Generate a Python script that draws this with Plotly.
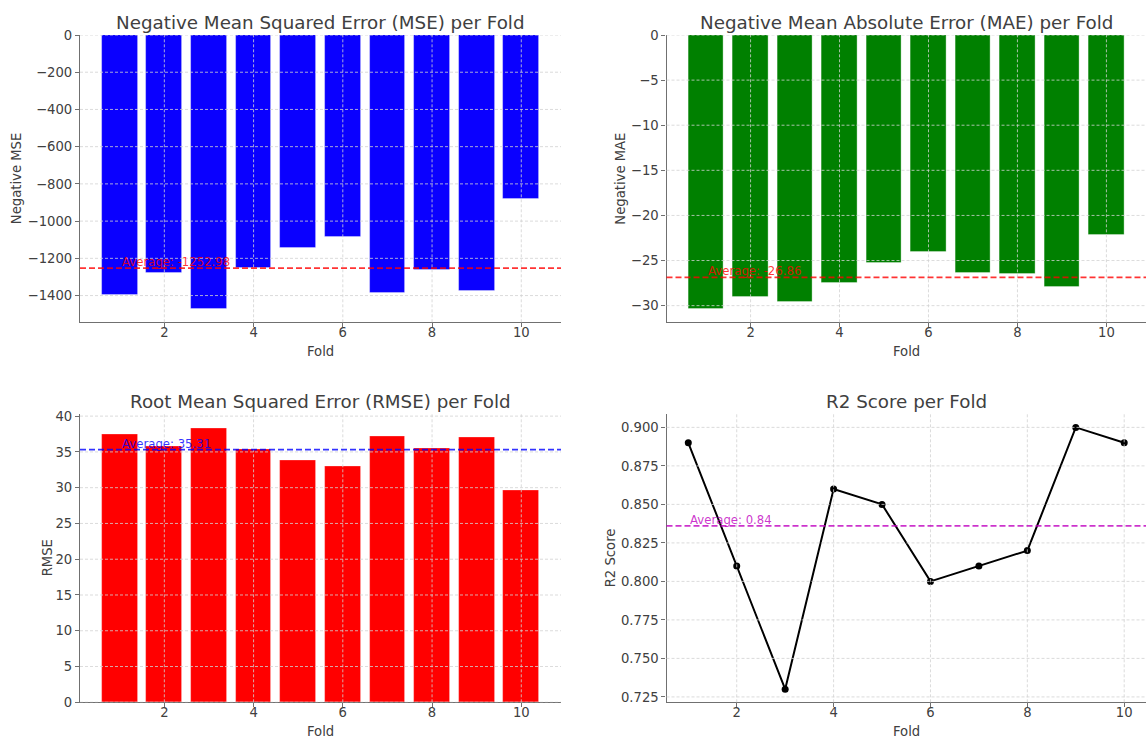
import plotly.graph_objects as go

# ---------------- data ----------------
folds = [1, 2, 3, 4, 5, 6, 7, 8, 9, 10]
neg_mse = [-1398.5, -1276.3, -1470.2, -1251.4, -1144.6, -1083.7, -1386.9, -1260.5, -1375.8, -881.9]
neg_mae = [-30.33, -29.05, -29.56, -27.45, -25.23, -24.05, -26.38, -26.45, -27.97, -22.13]
rmse = [37.40, 35.73, 38.34, 35.37, 33.83, 32.92, 37.24, 35.50, 37.09, 29.70]
r2 = [0.89, 0.81, 0.73, 0.86, 0.85, 0.80, 0.81, 0.82, 0.90, 0.89]

x_ticks = [2, 4, 6, 8, 10]
mse_ticks = [0, -200, -400, -600, -800, -1000, -1200, -1400]
mae_ticks = [0, -5, -10, -15, -20, -25, -30]
rmse_ticks = [0, 5, 10, 15, 20, 25, 30, 35, 40]
r2_ticks = [0.725, 0.750, 0.775, 0.800, 0.825, 0.850, 0.875, 0.900]

titles = [
    "Negative Mean Squared Error (MSE) per Fold",
    "Negative Mean Absolute Error (MAE) per Fold",
    "Root Mean Squared Error (RMSE) per Fold",
    "R2 Score per Fold",
]
ylabels = ["Negative MSE", "Negative MAE", "RMSE", "R2 Score"]
xlabel = "Fold"

# ---------------- layout helpers ----------------
W, H = 1146, 740
FONT = "DejaVu Sans"
TXT = "#404040"
SPINE = "#707070"
GRID = "#d2d2d2"


def px(x):
    return x / W


def py(y):
    return 1 - y / H


def mean(v):
    return sum(v) / len(v)


# panel pixel boxes: (left, right, top, bottom)
boxes = [
    (80, 561, 35, 322.3),
    (666.5, 1146, 35, 322.3),
    (80, 561, 414.3, 702.3),
    (666.5, 1146, 414.3, 702.3),
]

fig = go.Figure()

edge = dict(color="rgba(255,255,255,0.45)", width=0.8)
fig.add_trace(go.Bar(x=folds, y=neg_mse, width=0.8, marker=dict(color="#0a00ff", line=edge), xaxis="x", yaxis="y", showlegend=False))
fig.add_trace(go.Bar(x=folds, y=neg_mae, width=0.8, marker=dict(color="green", line=edge), xaxis="x2", yaxis="y2", showlegend=False))
fig.add_trace(go.Bar(x=folds, y=rmse, width=0.8, marker=dict(color="red", line=edge), xaxis="x3", yaxis="y3", showlegend=False))
fig.add_trace(go.Scatter(x=folds, y=r2, mode="lines+markers", line=dict(color="black", width=2), marker=dict(color="black", size=7), xaxis="x4", yaxis="y4", showlegend=False))

# axis ranges (matplotlib-like margins)
bar_xr = [0.6 - 0.05 * 9.8, 10.4 + 0.05 * 9.8]
line_xr = [1 - 0.05 * 9, 10 + 0.05 * 9]
mse_r = [min(neg_mse) * 1.05, 0]
mae_r = [min(neg_mae) * 1.05, 0]
rmse_r = [0, max(rmse) * 1.05]
r2_span = max(r2) - min(r2)
r2_r = [min(r2) - 0.05 * r2_span, max(r2) + 0.05 * r2_span]

xranges = [bar_xr, bar_xr, bar_xr, line_xr]
yranges = [mse_r, mae_r, rmse_r, r2_r]
yticks = [mse_ticks, mae_ticks, rmse_ticks, r2_ticks]
yfmt = ["", "", "", ".3f"]

layout = dict(
    template="none",
    width=W, height=H,
    margin=dict(l=0, r=0, t=0, b=0, pad=0),
    paper_bgcolor="white", plot_bgcolor="white",
    font=dict(family=FONT, color=TXT, size=13),
    bargap=0,
    showlegend=False,
)

shapes = []
annotations = []

for i in range(4):
    sfx = "" if i == 0 else str(i + 1)
    l, r, t, b = boxes[i]
    common = dict(
        automargin=False,
        showline=True, linecolor=SPINE, linewidth=1.3, mirror=False,
        ticks="outside", ticklen=4, tickcolor=SPINE, tickwidth=1,
        showgrid=False, zeroline=False,
        tickfont=dict(family=FONT, size=13.2, color=TXT),
    )
    layout["xaxis" + sfx] = dict(
        common, domain=[px(l), px(r)], range=xranges[i],
        tickmode="array", tickvals=x_ticks, anchor="y" + sfx,
        ticklabelstandoff=-6,
    )
    layout["yaxis" + sfx] = dict(
        common, domain=[py(b), py(t)], range=yranges[i],
        tickmode="array", tickvals=yticks[i], tickformat=yfmt[i], anchor="x" + sfx,
    )
    xr = "x" + sfx
    yr = "y" + sfx
    for xv in x_ticks:
        shapes.append(dict(type="line", xref=xr, yref=yr + " domain", x0=xv, x1=xv, y0=0, y1=1,
                           line=dict(color=GRID, width=0.8, dash="3px,2px"), layer="above"))
    for yv in yticks[i]:
        shapes.append(dict(type="line", xref=xr + " domain", yref=yr, x0=0, x1=1, y0=yv, y1=yv,
                           line=dict(color=GRID, width=0.8, dash="3px,2px"), layer="above"))
    annotations.append(dict(text=titles[i], x=px((l + r) / 2), y=py(t - 13), xref="paper", yref="paper",
                            xanchor="center", yanchor="middle", showarrow=False,
                            font=dict(family=FONT, size=18.3, color=TXT)))
    annotations.append(dict(text=xlabel, x=px((l + r) / 2), y=py(b + 29), xref="paper", yref="paper",
                            xanchor="center", yanchor="middle", showarrow=False,
                            font=dict(family=FONT, size=13.2, color=TXT)))

ylab_x = [16.5, 621, 47, 610]
for i in range(4):
    l, r, t, b = boxes[i]
    annotations.append(dict(text=ylabels[i], x=px(ylab_x[i]), y=py((t + b) / 2), xref="paper", yref="paper",
                            xanchor="center", yanchor="middle", textangle=-90, showarrow=False,
                            font=dict(family=FONT, size=13.2, color=TXT)))

avgs = [mean(neg_mse), mean(neg_mae), mean(rmse), mean(r2)]
avg_colors = ["rgba(255,0,0,0.8)", "rgba(255,0,0,0.8)", "rgba(0,0,255,0.8)", "rgba(191,0,191,0.8)"]
for i in range(4):
    sfx = "" if i == 0 else str(i + 1)
    shapes.append(dict(type="line", xref="x" + sfx + " domain", yref="y" + sfx, x0=0, x1=1,
                       y0=avgs[i], y1=avgs[i], line=dict(color=avg_colors[i], width=1.8, dash="6px,3px"),
                       layer="above"))
    annotations.append(dict(text=f"Average: {avgs[i]:.2f}", x=folds[0], y=avgs[i], xref="x" + sfx, yref="y" + sfx,
                            xanchor="left", yanchor="bottom", yshift=-3, showarrow=False,
                            font=dict(family=FONT, size=11.7, color=avg_colors[i])))

layout["shapes"] = shapes
layout["annotations"] = annotations
fig.update_layout(**layout)

post = (
    "document.documentElement.style.margin='0';"
    "document.documentElement.style.overflow='hidden';"
    "document.body.style.margin='0';"
    "document.body.style.overflow='hidden';"
    "var d=document.getElementById('{plot_id}');"
    "d.style.position='fixed';d.style.left='0px';d.style.top='0px';"
)
fig.write_html("out.html", config={"displayModeBar": False}, post_script=post)
